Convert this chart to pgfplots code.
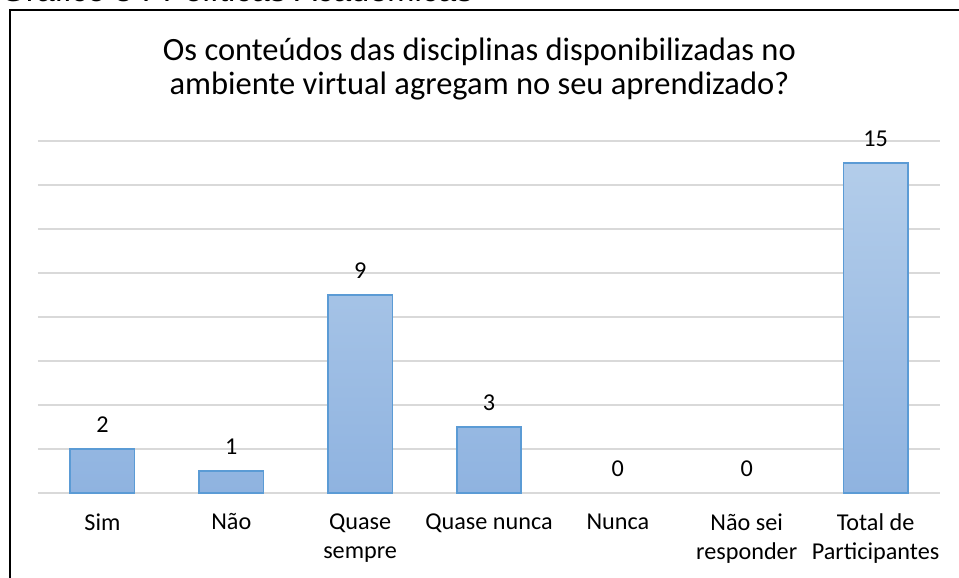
\documentclass[border=0pt]{standalone}
\usepackage{fontspec}
\setmainfont{Carlito}
\newfontfamily\arialf{Liberation Sans}
\usepackage{pgfplots}
\pgfplotsset{compat=1.18}
\definecolor{gridc}{HTML}{D9D9D9}
\definecolor{barTop}{HTML}{B3CDEA}
\definecolor{barBot}{HTML}{8FB3E0}
\definecolor{barEdge}{HTML}{5B9BD5}
\begin{document}
\begin{tikzpicture}
\useasboundingbox (0,0) rectangle (479.5pt,-289pt);
\node[anchor=base west, inner sep=0, font=\arialf\fontsize{16.3}{18}\selectfont] at (0pt,-1.0pt) {Gráfico 8 : Políticas Acadêmicas};
\draw[line width=1pt] (5pt,-5pt) rectangle (500pt,-320pt);
\node[align=center, anchor=base, font=\fontsize{16.25}{17}\selectfont, inner sep=0] at (239.75pt,-47.2pt)
  {Os conteúdos das disciplinas disponibilizadas no\\ambiente virtual agregam no seu aprendizado?};
\begin{axis}[
  at={(19pt,-246.5pt)}, anchor=south west,
  scale only axis, width=451pt, height=176pt,
  xmin=-0.5, xmax=6.5, ymin=0, ymax=16,
  ytick={0,2,...,16}, yticklabels={},
  ymajorgrids, grid style={gridc, line width=0.75pt},
  axis x line*=bottom, axis y line*=left,
  x axis line style={gridc, line width=0.75pt, -},
  y axis line style={draw=none},
  major tick length=0pt, tick style={draw=none},
  xtick={0,...,6},
  xticklabels={Sim, Não, {Quase\\sempre}, {Quase nunca}, Nunca, {Não sei\\responder}, {Total de\\Participantes}},
  xticklabel style={align=center, anchor=north, inner sep=0pt, yshift=-10.2pt, font=\fontsize{12.1}{14.6}\selectfont, text=black},
  /pgf/number format/assume math mode=true,
  every node near coord/.append style={anchor=base, yshift=8.5pt, font=\fontsize{12.1}{14.6}\selectfont, text=black},
  clip=false,
]
\addplot[ybar, bar width=0.5, bar shift=0pt, draw=barEdge, line width=0.75pt, top color=barTop, bottom color=barBot, nodes near coords]
  coordinates {(0,2) (1,1) (2,9) (3,3) (6,15)};
\addplot[ybar, bar width=0.5, bar shift=0pt, draw=none, fill=none, nodes near coords]
  coordinates {(4,0) (5,0)};
\end{axis}
\end{tikzpicture}
\end{document}
